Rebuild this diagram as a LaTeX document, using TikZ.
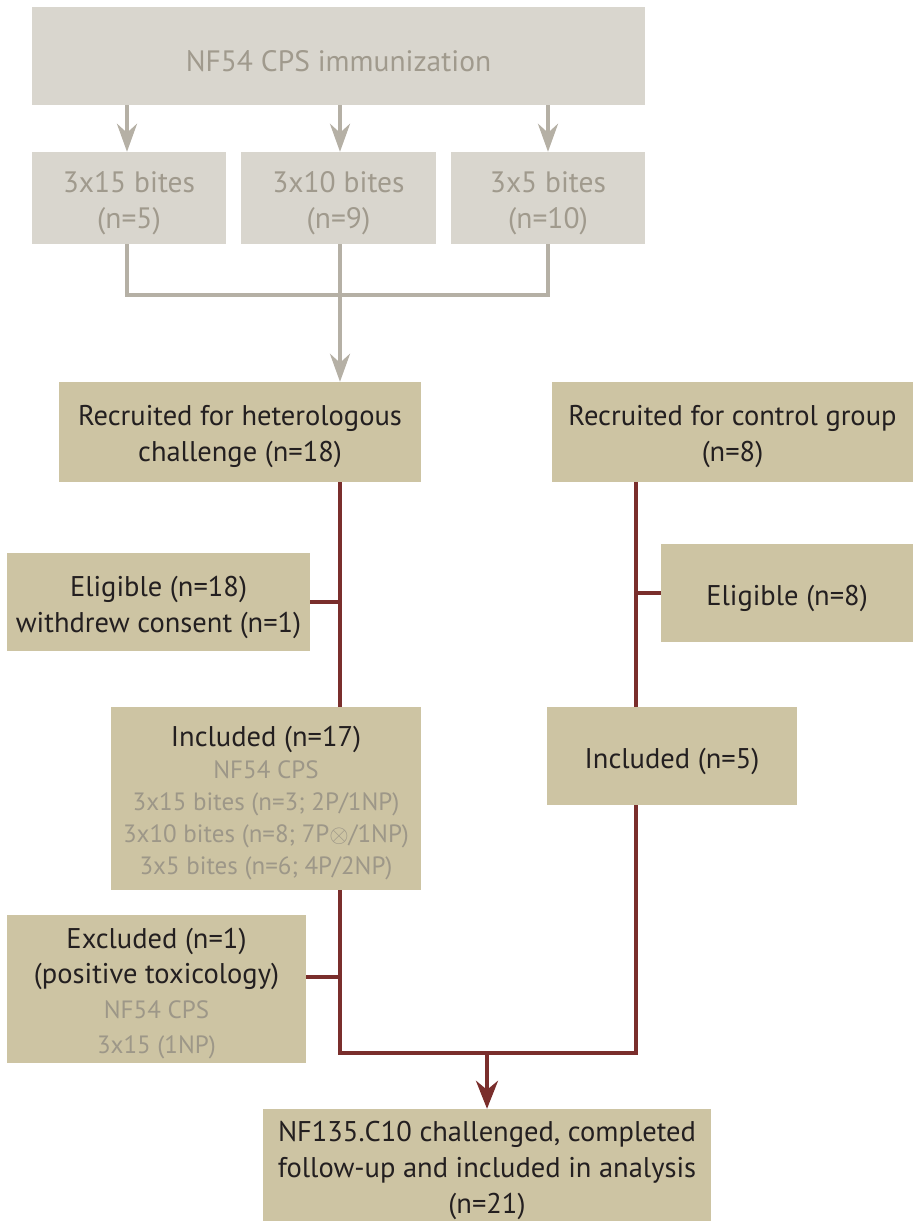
\documentclass[tikz,border=0pt]{standalone}
\usepackage{fontspec}
\setmainfont{PT Sans}
\usetikzlibrary{arrows.meta}
\definecolor{gfill}{HTML}{D9D6CE}
\definecolor{gtext}{HTML}{A09A8D}
\definecolor{gline}{HTML}{B5B0A5}
\definecolor{bfill}{HTML}{CDC4A3}
\definecolor{dtext}{HTML}{231F20}
\definecolor{rline}{HTML}{7A2E2C}
\definecolor{btext}{HTML}{9D9788}
\tikzset{
  graybox/.style={fill=gfill, inner sep=0pt},
  beigebox/.style={fill=bfill, inner sep=0pt},
  graytxt/.style={text=gtext, align=center, inner sep=0pt, font=\fontsize{29.5}{36}\selectfont},
  beigetxt/.style={text=dtext, align=center, inner sep=0pt, font=\fontsize{28.5}{36}\selectfont},
  gconn/.style={draw=gline, line width=4pt},
  rconn/.style={draw=rline, line width=4pt},
  garrow/.style={gconn, -{Stealth[length=28pt, width=20pt, inset=9pt]}},
  rarrow/.style={rconn, -{Stealth[length=28pt, width=22pt, inset=9pt]}},
}
\newcommand{\gsub}[1]{{\color{btext}\fontsize{25}{31}\selectfont #1}}
% \boxnode{name}{box style}{text style}{x}{y}{w}{h}{text}
\newcommand{\boxnode}[8]{%
  \node[#2, minimum width=#6pt, minimum height=#7pt] (#1) at (#4,#5) {};
  \node[#3] (#1-t) at ([yshift=-5pt]#1.center) {#8};
}
\begin{document}
\begin{tikzpicture}[x=1pt,y=-1pt]
\useasboundingbox (0,0) rectangle (913,1221);
% gray nodes
\boxnode{top}{graybox}{graytxt}{338.5}{56}{613}{98}{NF54 CPS immunization}
\boxnode{s1}{graybox}{graytxt}{129}{198}{194}{92}{3x15 bites\\(n=5)}
\boxnode{s2}{graybox}{graytxt}{338.5}{198}{195}{92}{3x10 bites\\(n=9)}
\boxnode{s3}{graybox}{graytxt}{548}{198}{194}{92}{3x5 bites\\(n=10)}
% beige nodes
\boxnode{rh}{beigebox}{beigetxt}{240}{432}{362}{100}{Recruited for heterologous\\challenge (n=18)}
\boxnode{rc}{beigebox}{beigetxt}{732.5}{432}{361}{100}{Recruited for control group\\(n=8)}
\boxnode{el}{beigebox}{beigetxt}{158.5}{602}{303}{98}{Eligible (n=18)\\withdrew consent (n=1)}
\boxnode{er}{beigebox}{beigetxt}{787}{593}{252}{98}{Eligible (n=8)}
\boxnode{i17}{beigebox}{beigetxt, font=\fontsize{28.5}{32}\selectfont}{266}{798.5}{310}{183}{Included (n=17)\\\gsub{NF54 CPS}\\\gsub{3x15 bites (n=3; 2P/1NP)}\\\gsub{3x10 bites (n=8; 7P$\otimes$/1NP)}\\\gsub{3x5 bites (n=6; 4P/2NP)}}
\boxnode{i5}{beigebox}{beigetxt}{672}{756}{250}{98}{Included (n=5)}
\boxnode{ex}{beigebox}{beigetxt, font=\fontsize{28.5}{35}\selectfont}{156.5}{989}{299}{148}{Excluded (n=1)\\(positive toxicology)\\\gsub{NF54 CPS}\\\gsub{3x15 (1NP)}}
\boxnode{fin}{beigebox}{beigetxt, font=\fontsize{28.5}{36}\selectfont}{487}{1165}{448}{112}{NF135.C10 challenged, completed\\follow-up and included in analysis\\(n=21)}
% coordinates
\coordinate (a1) at (127,0);
\coordinate (a2) at (340,0);
\coordinate (a3) at (548,0);
\coordinate (j) at (340,295);
\coordinate (lx) at (340,0);
\coordinate (rx) at (636,0);
\coordinate (jb) at (340,1053);
\coordinate (jm) at (487,1053);
% gray connectors
\draw[garrow] (top.south -| a1) -- (s1.north -| a1);
\draw[garrow] (top.south -| a2) -- (s2.north -| a2);
\draw[garrow] (top.south -| a3) -- (s3.north -| a3);
\draw[gconn] (s1.south -| a1) |- (j);
\draw[gconn] (s3.south -| a3) |- (j);
\draw[garrow] (s2.south -| a2) -- (rh.north -| a2);
% red connectors
\draw[rconn] (rh.south -| lx) -- (i17.north -| lx);
\draw[rconn] (el.east) -- (el.east -| lx);
\draw[rconn] (rc.south -| rx) -- (i5.north -| rx);
\draw[rconn] (er.west) -- (er.west -| rx);
\draw[rconn] (i17.south -| lx) -- (jb) -| (i5.south -| rx);
\draw[rconn] (ex.east |- 0,977) -- (lx |- 0,977);
\draw[rarrow] (jm) -- (fin.north);
\end{tikzpicture}
\end{document}
